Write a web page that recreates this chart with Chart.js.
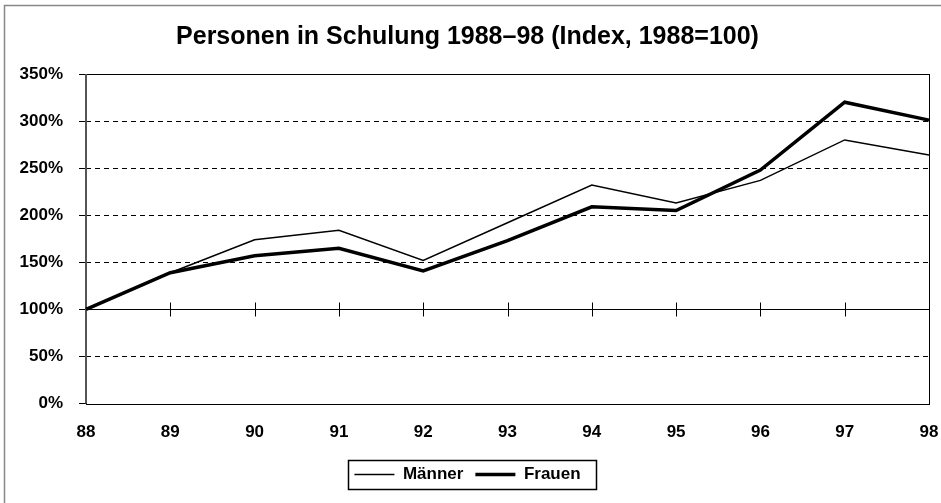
<!DOCTYPE html>
<html>
<head>
<meta charset="utf-8">
<script src="https://cdn.jsdelivr.net/npm/chart.js@4/dist/chart.umd.min.js"></script>
<style>
	body { margin: 0; background: #fff; }
	#wrap { width: 941px; height: 503px; }
</style>
</head>
<body>
<div id="wrap"><canvas id="chart" width="941" height="503"></canvas></div>
<script>
const years = ["88", "89", "90", "91", "92", "93", "94", "95", "96", "97", "98"];
const maenner = [100, 139, 174, 184, 152, 192, 232, 213, 237, 280, 264];
const frauen = [100, 139, 157, 165, 141, 173, 209, 205, 248, 320, 301];
const y_ticks = [0, 50, 100, 150, 200, 250, 300, 350];

const font_family = '"Liberation Sans", Arial, Helvetica, sans-serif';

// frame, solid 100% axis with crossing ticks, box round the legend
let frame_plugin = {
	id: 'frame',
	beforeDatasetsDraw: (chart) => {
		const ctx = chart.ctx;
		const area = chart.chartArea;
		const x = chart.scales.x;
		const y = chart.scales.y;
		const y100 = Math.round(y.getPixelForValue(100)) + 0.5;

		ctx.save();
		ctx.strokeStyle = "#000";
		ctx.lineWidth = 1;
		ctx.beginPath();
		ctx.moveTo(area.left, y100);
		ctx.lineTo(area.right, y100);
		for (let i = 1; i < years.length - 1; i++) {
			const px = Math.round(x.getPixelForValue(i)) + 0.5;
			ctx.moveTo(px, y100 - 7);
			ctx.lineTo(px, y100 + 7);
		}
		ctx.stroke();

		// plot area border
		ctx.strokeRect(Math.round(area.left) + 0.5, Math.round(area.top) + 0.5,
			Math.round(area.right - area.left), Math.round(area.bottom - area.top));
		ctx.strokeStyle = "#555";
		ctx.lineWidth = 2;
		ctx.beginPath();
		ctx.moveTo(Math.round(area.left), area.top);
		ctx.lineTo(Math.round(area.left), area.bottom);
		ctx.stroke();
		ctx.restore();
	},
	afterDraw: (chart) => {
		const ctx = chart.ctx;
		ctx.save();
		// outer chart frame
		ctx.strokeStyle = "#888";
		ctx.lineWidth = 1.5;
		ctx.beginPath();
		ctx.moveTo(4.5, chart.height);
		ctx.lineTo(4.5, 5.5);
		ctx.lineTo(chart.width, 5.5);
		ctx.stroke();

		const boxes = chart.legend.legendHitBoxes;
		if (boxes && boxes.length) {
			const left = Math.min(...boxes.map(b => b.left)) - 6;
			const right = Math.max(...boxes.map(b => b.left + b.width)) + 16;
			const top = Math.min(...boxes.map(b => b.top)) - 6;
			const bottom = Math.max(...boxes.map(b => b.top + b.height)) + 6;
			ctx.strokeStyle = "#000";
			ctx.lineWidth = 1.5;
			ctx.strokeRect(Math.round(left) + 0.5, Math.round(top) + 0.5,
				Math.round(right - left), Math.round(bottom - top));
		}
		ctx.restore();
	}
};

const config = {
	type: 'line',
	data: {
		labels: years,
		datasets: [
			{
				label: "Männer",
				data: maenner,
				borderColor: "#000",
				backgroundColor: "#000",
				borderWidth: 1.5,
				pointRadius: 0,
				tension: 0,
				pointStyle: 'line'
			},
			{
				label: "Frauen",
				data: frauen,
				borderColor: "#000",
				backgroundColor: "#000",
				borderWidth: 3.5,
				pointRadius: 0,
				tension: 0,
				pointStyle: 'line'
			}
		]
	},
	options: {
		responsive: false,
		devicePixelRatio: 1,
		animation: false,
		layout: {
			padding: { left: 6, right: 12, top: 0, bottom: 10 }
		},
		plugins: {
			title: {
				display: true,
				text: "Personen in Schulung 1988–98 (Index, 1988=100)",
				color: "#000",
				font: { family: font_family, size: 25, weight: 'bold' },
				padding: { top: 22, bottom: 22 }
			},
			legend: {
				position: 'bottom',
				labels: {
					color: "#000",
					font: { family: font_family, size: 17, weight: 'bold' },
					usePointStyle: true,
					pointStyleWidth: 40,
					boxHeight: 17,
					padding: 12
				}
			},
			tooltip: { enabled: false }
		},
		scales: {
			x: {
				offset: false,
				grid: { display: false },
				border: { display: false },
				afterFit: (scale) => { scale.paddingLeft = 0; scale.paddingRight = 0; },
				ticks: {
					color: "#000",
					font: { family: font_family, size: 17, weight: 'bold' },
					padding: 11,
					maxRotation: 0,
					autoSkip: false
				}
			},
			y: {
				min: 0,
				max: 350,
				afterFit: (scale) => { scale.width = 80; },
				afterBuildTicks: (scale) => { scale.ticks = y_ticks.map(v => ({ value: v })); },
				grid: {
					color: (c) => [0, 100, 350].includes(c.tick.value) ? "rgba(0,0,0,0)" : "#000",
					tickColor: "#000",
					tickLength: 7,
					tickBorderDash: [],
					lineWidth: 1
				},
				border: { display: false, dash: [5, 4] },
				ticks: {
					color: "#000",
					font: { family: font_family, size: 17, weight: 'bold' },
					padding: 16,
					callback: (v) => v + "%"
				}
			}
		}
	},
	plugins: [frame_plugin]
};

new Chart(document.getElementById("chart"), config);
</script>
</body>
</html>
